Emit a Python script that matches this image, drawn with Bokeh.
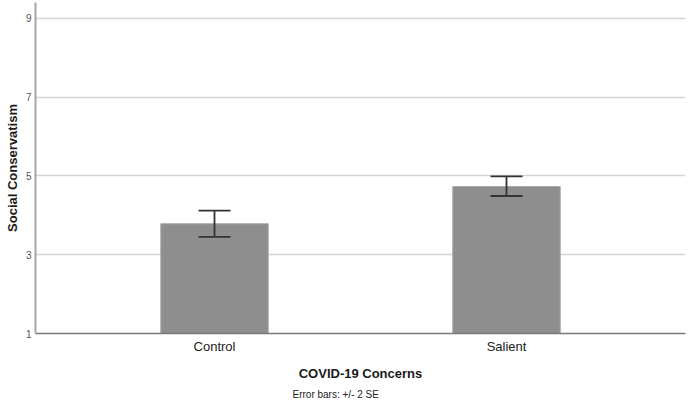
from bokeh.plotting import figure
from bokeh.models import ColumnDataSource, FactorRange, Range1d, FixedTicker, Whisker, TeeHead, Title
from bokeh.embed import file_html
from bokeh.resources import INLINE

categories = ["Control", "Salient"]
means = [3.785, 4.73]
upper = [4.12, 4.99]
lower = [3.45, 4.49]
y_ticks = [1, 3, 5, 7, 9]

FONT = "Liberation Sans"

src = ColumnDataSource(dict(cat=categories, mean=means, upper=upper, lower=lower))

p = figure(
    x_range=FactorRange(*categories, range_padding=0.113, range_padding_units="percent"),
    y_range=Range1d(1, 9.4),
    width=688, height=405,
    frame_width=650, frame_height=331,
    output_backend="svg", toolbar_location=None,
    min_border_left=35, min_border_right=3, min_border_top=2, min_border_bottom=72,
)
p.outline_line_color = None
p.background_fill_color = "white"

p.vbar(x="cat", top="mean", bottom=1, width=0.368, source=src,
       fill_color="#8e8e8e", line_color="#a8a8a8", line_width=1)

w = Whisker(base="cat", upper="upper", lower="lower", source=src, level="overlay",
            line_color="#333333", line_width=1.8,
            upper_head=TeeHead(size=32, line_color="#333333", line_width=1.8),
            lower_head=TeeHead(size=32, line_color="#333333", line_width=1.8))
p.add_layout(w)

# grid
p.xgrid.grid_line_color = None
p.ygrid.grid_line_color = "#d4d4d4"
p.ygrid.grid_line_width = 1.5
p.yaxis.ticker = FixedTicker(ticks=y_ticks)

# y axis
p.yaxis.axis_label = "Social Conservatism"
p.yaxis.axis_label_text_font = FONT
p.yaxis.axis_label_text_font_size = "13px"
p.yaxis.axis_label_text_font_style = "bold"
p.yaxis.axis_label_text_color = "#1a1a1a"
p.yaxis.axis_label_standoff = 3
p.yaxis.major_label_text_font = FONT
p.yaxis.major_label_text_font_size = "10px"
p.yaxis.major_label_text_color = "#555555"
p.yaxis.major_label_standoff = 4
p.yaxis.major_tick_line_color = None
p.yaxis.minor_tick_line_color = None
p.yaxis.major_tick_out = 0
p.yaxis.major_tick_in = 0
p.yaxis.axis_line_color = "#a6a6a6"
p.yaxis.axis_line_width = 2

# x axis
p.xaxis.axis_label = "COVID-19 Concerns"
p.xaxis.axis_label_text_font = FONT
p.xaxis.axis_label_text_font_size = "13px"
p.xaxis.axis_label_text_font_style = "bold"
p.xaxis.axis_label_text_color = "#1a1a1a"
p.xaxis.axis_label_standoff = 9
p.xaxis.major_label_text_font = FONT
p.xaxis.major_label_text_font_size = "13px"
p.xaxis.major_label_text_color = "#222222"
p.xaxis.major_label_standoff = 5
p.xaxis.major_tick_line_color = None
p.xaxis.minor_tick_line_color = None
p.xaxis.major_tick_out = 0
p.xaxis.major_tick_in = 0
p.xaxis.axis_line_color = "#7a7a7a"
p.xaxis.axis_line_width = 1.5

note = Title(text="Error bars: +/- 2 SE", align="left", offset=257,
             text_font=FONT, text_font_size="10px", text_font_style="normal",
             text_color="#222222", standoff=6)
p.add_layout(note, "below")

open("out.html", "w").write(file_html(p, INLINE))
